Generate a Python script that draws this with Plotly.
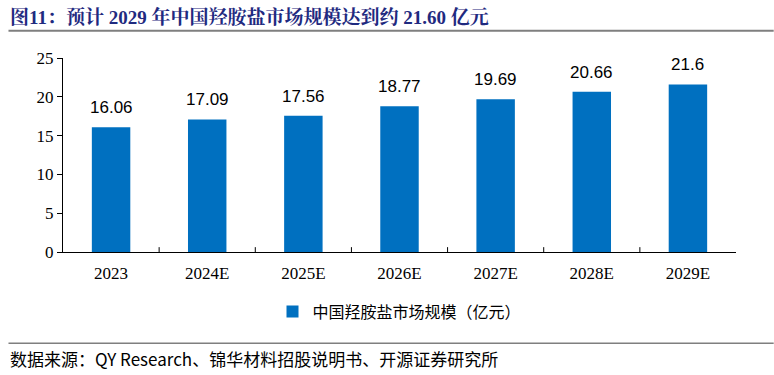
import plotly.graph_objects as go

categories = ["2023", "2024E", "2025E", "2026E", "2027E", "2028E", "2029E"]
values = [16.06, 17.09, 17.56, 18.77, 19.69, 20.66, 21.6]
labels = ["16.06", "17.09", "17.56", "18.77", "19.69", "20.66", "21.6"]
series_name = "中国羟胺盐市场规模（亿元）"
title_text = "图11：预计 2029 年中国羟胺盐市场规模达到约 21.60 亿元"
source_text = "数据来源：QY Research、锦华材料招股说明书、开源证券研究所"

serif = "Times New Roman, Liberation Serif, Noto Serif CJK SC, Noto Sans CJK SC, serif"
cjk = "Noto Sans CJK SC, sans-serif"

fig = go.Figure()
fig.add_trace(go.Bar(
    x=categories, y=values, name=series_name,
    marker=dict(color="#0070C0", line=dict(width=0)),
    width=0.4,
))

for i, (v, t) in enumerate(zip(values, labels)):
    fig.add_annotation(x=i, y=v, xref="x", yref="y", text=t, showarrow=False,
                       yanchor="bottom", yshift=8,
                       font=dict(family="Liberation Sans, Arial, sans-serif", size=17, color="#000000"))

fig.update_layout(
    width=774, height=375,
    paper_bgcolor="white", plot_bgcolor="white",
    margin=dict(l=63, r=38, t=58, b=123),
    showlegend=True,
    legend=dict(orientation="h", x=0.5, xanchor="center", y=-0.22, yanchor="top",
                font=dict(family=cjk, size=16, color="#000000"),
                itemwidth=30),
)
fig.update_yaxes(range=[0, 25], dtick=5, showline=True, linecolor="#000000", linewidth=1,
                 ticks="outside", ticklen=5, tickcolor="#000000", showgrid=False, zeroline=False,
                 tickfont=dict(family=serif, size=17, color="#000000"))
fig.update_xaxes(type="category", showline=True, linecolor="#000000", linewidth=1, ticks="",
                 showgrid=False, ticklabelstandoff=6,
                 tickfont=dict(family=serif, size=17, color="#000000"))

# category boundary ticks (inside, upward)
for i in range(1, len(categories)):
    fig.add_shape(type="line", xref="x", yref="paper", x0=i - 0.5, x1=i - 0.5, y0=0, y1=0.025,
                  line=dict(color="#000000", width=1))

fig.add_annotation(text="<b>" + title_text + "</b>", xref="paper", yref="paper",
                   x=-0.081, y=1.21, xanchor="left", yanchor="middle", showarrow=False,
                   font=dict(family=serif, size=19, color="#1F2A80"))

fig.add_shape(type="line", xref="paper", yref="paper", x0=-0.081, x1=1.056, y0=1.14, y1=1.14,
              line=dict(color="#7F7F7F", width=2))
fig.add_shape(type="line", xref="paper", yref="paper", x0=-0.081, x1=1.056, y0=-0.47, y1=-0.47,
              line=dict(color="#7F7F7F", width=1.5))
fig.add_annotation(text=source_text, xref="paper", yref="paper", x=-0.081, y=-0.55,
                   xanchor="left", yanchor="middle", showarrow=False,
                   font=dict(family=cjk, size=17, color="#000000"))

fig.write_html("out.html", config={"displayModeBar": False},
               post_script="document.body.style.margin='0';")
